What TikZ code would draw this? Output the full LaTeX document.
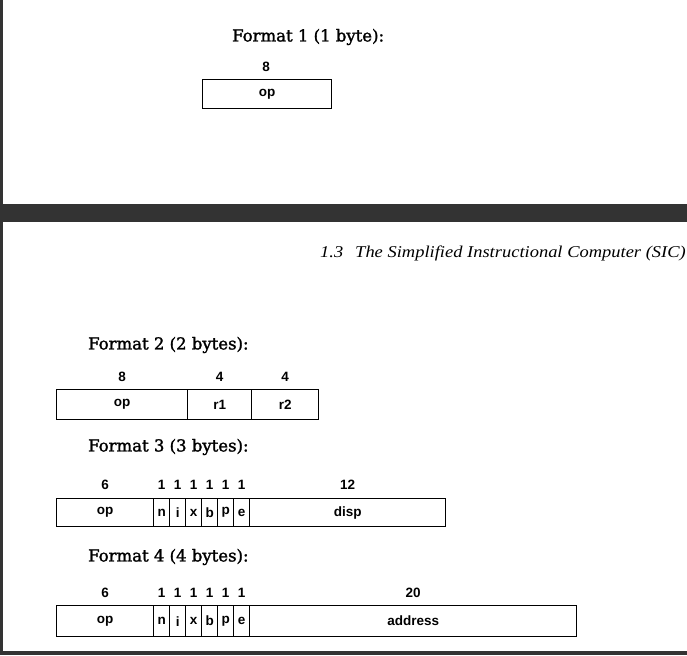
\documentclass[tikz,border=0pt]{standalone}
\usepackage{fontspec}
\newfontfamily\titlefont[FakeBold=1.6]{DejaVu Serif}
\newfontfamily\fieldfont{Liberation Sans}
\newfontfamily\headfont[FakeStretch=1.12]{Liberation Serif}
\definecolor{band}{HTML}{333333}
\begin{document}
\begin{tikzpicture}[x=1pt,y=-1pt,
  field/.style={draw=black, line width=1.3pt, inner sep=0pt, anchor=north west,
    font=\fieldfont\bfseries\fontsize{13.5}{13.5}\selectfont},
  num/.style={inner sep=0pt, font=\fieldfont\bfseries\fontsize{13.5}{13.5}\selectfont},
  ttl/.style={inner sep=0pt, anchor=west, font=\titlefont\fontsize{16.5}{17}\selectfont},
  hdr/.style={inner sep=0pt, anchor=east, font=\headfont\itshape\fontsize{16.5}{17}\selectfont}]
\useasboundingbox (0,0) rectangle (687,655);
\fill[white] (0,0) rectangle (687,655);
% page frame (viewer background)
\fill[band] (0,0) rectangle (2.5,655);
\fill[band] (0,204) rectangle (687,222);
\fill[band] (0,651) rectangle (687,655);

% ---------- Format 1
\node[ttl] (t1) at (232,37) {Format 1 (1 byte):};
\node[field, minimum width=129, minimum height=29] (f1op) at (202,79) {op};
\node[num] (w1op) at (266,67) {8};

% ---------- header
\node[hdr] (hd) at (686,253) {1.3\hspace{12pt}The Simplified Instructional Computer (SIC)};

% ---------- Format 2
\node[ttl] (t2) at (88,345) {Format 2 (2 bytes):};
\node[field, minimum width=131, minimum height=30] (f2op) at (56,389) {op};
\node[field, minimum width=64, minimum height=30] (f2ra) at (187,389) {r1};
\node[field, minimum width=67, minimum height=30] (f2rb) at (251,389) {r2};
\node[num] (w2op) at (f2op.center |- 0,377) {8};
\node[num] (w2ra) at (f2ra.center |- 0,377) {4};
\node[num] (w2rb) at (f2rb.center |- 0,377) {4};

% ---------- Format 3
\node[ttl] (t3) at (88,447) {Format 3 (3 bytes):};
\node[field, minimum width=97, minimum height=28] (f3op) at (56,498) {op};
\node[field, minimum width=16, minimum height=28] (f3n) at (153,498) {n};
\node[field, minimum width=16, minimum height=28] (f3i) at (169,498) {i};
\node[field, minimum width=16, minimum height=28] (f3x) at (185,498) {x};
\node[field, minimum width=16, minimum height=28] (f3b) at (201,498) {b};
\node[field, minimum width=16, minimum height=28] (f3p) at (217,498) {p};
\node[field, minimum width=16, minimum height=28] (f3e) at (233,498) {e};
\node[field, minimum width=196, minimum height=28] (f3d) at (249,498) {disp};
\node[num] (w3op) at (f3op.center |- 0,485) {6};
\node[num] (w3n) at (f3n.center |- 0,485) {1};
\node[num] (w3i) at (f3i.center |- 0,485) {1};
\node[num] (w3x) at (f3x.center |- 0,485) {1};
\node[num] (w3b) at (f3b.center |- 0,485) {1};
\node[num] (w3p) at (f3p.center |- 0,485) {1};
\node[num] (w3e) at (f3e.center |- 0,485) {1};
\node[num] (w3d) at (f3d.center |- 0,485) {12};

% ---------- Format 4
\node[ttl] (t4) at (88,557) {Format 4 (4 bytes):};
\node[field, minimum width=97, minimum height=31] (f4op) at (56,605) {op};
\node[field, minimum width=16, minimum height=31] (f4n) at (153,605) {n};
\node[field, minimum width=16, minimum height=31] (f4i) at (169,605) {i};
\node[field, minimum width=16, minimum height=31] (f4x) at (185,605) {x};
\node[field, minimum width=16, minimum height=31] (f4b) at (201,605) {b};
\node[field, minimum width=16, minimum height=31] (f4p) at (217,605) {p};
\node[field, minimum width=16, minimum height=31] (f4e) at (233,605) {e};
\node[field, minimum width=327, minimum height=31] (f4a) at (249,605) {address};
\node[num] (w4op) at (f4op.center |- 0,593) {6};
\node[num] (w4n) at (f4n.center |- 0,593) {1};
\node[num] (w4i) at (f4i.center |- 0,593) {1};
\node[num] (w4x) at (f4x.center |- 0,593) {1};
\node[num] (w4b) at (f4b.center |- 0,593) {1};
\node[num] (w4p) at (f4p.center |- 0,593) {1};
\node[num] (w4e) at (f4e.center |- 0,593) {1};
\node[num] (w4a) at (f4a.center |- 0,593) {20};
\end{tikzpicture}
\end{document}
